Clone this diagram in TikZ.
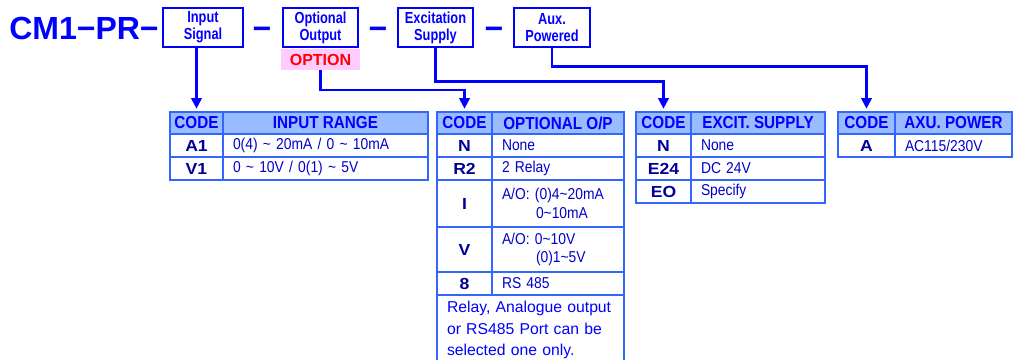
\documentclass[tikz,border=0pt]{standalone}
\usepackage{fontspec}
\setmainfont{Liberation Sans}
\newfontfamily\narrowfont[FakeStretch=0.88]{Liberation Sans}
\newfontfamily\condfont[FakeStretch=0.8]{Liberation Sans}
\newfontfamily\widefont[FakeStretch=1.1]{Liberation Sans}
\usepackage{tikz}
\usetikzlibrary{arrows.meta, positioning}

\newdimen\pix \pix=0.75pt

\definecolor{selblue}{RGB}{0,0,255}
\definecolor{tblline}{RGB}{51,102,255}
\definecolor{hdfill}{RGB}{153,187,255}
\definecolor{codetext}{RGB}{0,0,153}
\definecolor{desctext}{RGB}{0,0,204}
\definecolor{optpink}{RGB}{255,204,255}
\definecolor{optred}{RGB}{255,0,0}

\newcommand{\partfont}{\bfseries\fontsize{24}{28}\selectfont}
\newcommand{\selfont}{\condfont\bfseries\fontsize{12}{12.75}\selectfont}
\newcommand{\hdfont}{\narrowfont\bfseries\fontsize{13}{15}\selectfont}
\newcommand{\codefont}{\widefont\bfseries\fontsize{12}{14}\selectfont}
\newcommand{\descfont}{\narrowfont\fontsize{11.8}{14}\selectfont}
\newcommand{\notefont}{\fontsize{11.8}{16}\selectfont}

\tikzset{
    partno/.style={inner sep=0pt, anchor=base west, font=\partfont, text=selblue},
    sepdash/.style={inner sep=0pt, anchor=base, font=\partfont, text=selblue},
    selbox/.style={rectangle, draw=selblue, line width=2.2pt, minimum height=39\pix, inner sep=0pt, align=center, font=\selfont, text=selblue},
    optbox/.style={rectangle, fill=optpink, minimum width=79\pix, minimum height=21\pix, inner sep=0pt, font=\bfseries\fontsize{12}{14}\selectfont, text=optred},
    conn/.style={draw=selblue, line width=1.6pt, -{Triangle[width=8pt,length=8pt]}, shorten >=2.5pt},
    cell/.style={rectangle, draw=tblline, line width=1.5pt, inner sep=0pt, outer sep=0pt, anchor=north west},
    cellsize/.style 2 args={minimum width=#1\pix, minimum height=#2\pix},
    hdcell/.style={cell, fill=hdfill, font=\hdfont, text=selblue},
    codecell/.style={cell, font=\codefont, text=codetext},
    desccell/.style={cell, font=\descfont, text=desctext, align=left, inner xsep=10\pix, text width=#1\pix},
    notecell/.style={cell, font=\notefont, text=selblue, align=left, inner xsep=10\pix, text width=167\pix},
}

\begin{document}
\begin{tikzpicture}[x=0.75pt, y=-0.75pt]
  \useasboundingbox (0,0) rectangle (1013,360);

  % order code
  \node[partno] (pn) at (9,40) {CM1−PR−};
  \node[selbox, minimum width=80\pix] (insig) at (203,27.5) {Input\\Signal};
  \node[sepdash] (dashA) at (262,40) {−};
  \node[selbox, minimum width=75\pix] (optout) at (320.5,27.5) {Optional\\Output};
  \node[sepdash] (dashB) at (378,40) {−};
  \node[selbox, minimum width=75\pix] (excit) at (435.5,27.5) {Excitation\\Supply};
  \node[sepdash] (dashC) at (494,40) {−};
  \node[selbox, minimum width=76\pix] (auxpw) at (552,27.5) {Aux.\\Powered};
  \node[optbox] (option) at (320.5,59.5) {OPTION};

  % input signal
  \node[hdcell, cellsize={53}{22}] (hdA) at (170,112) {CODE};
  \node[hdcell, cellsize={205}{22}, right=0pt of hdA] (thA) {INPUT RANGE};
  \node[codecell, cellsize={53}{23}, below=0pt of hdA] (cA1) {A1};
  \node[desccell=185, minimum height=23\pix, right=0pt of cA1] (dA1) {0(4) \textasciitilde{} 20mA / 0 \textasciitilde{} 10mA};
  \node[codecell, cellsize={53}{23}, below=0pt of cA1] (cV1) {V1};
  \node[desccell=185, minimum height=23\pix, right=0pt of cV1] (dV1) {0 \textasciitilde{} 10V / 0(1) \textasciitilde{} 5V};

  % optional output
  \node[hdcell, cellsize={55}{22}] (hdB) at (437,112) {CODE};
  \node[hdcell, cellsize={132}{22}, right=0pt of hdB] (thB) {OPTIONAL O/P};
  \node[codecell, cellsize={55}{23}, below=0pt of hdB] (cBN) {N};
  \node[desccell=112, minimum height=23\pix, right=0pt of cBN] (dBN) {None};
  \node[codecell, cellsize={55}{23}, below=0pt of cBN] (cBR) {R2};
  \node[desccell=112, minimum height=23\pix, right=0pt of cBR] (dBR) {2 Relay};
  \node[codecell, cellsize={55}{47}, below=0pt of cBR] (cBI) {I};
  \node[desccell=112, minimum height=47\pix, right=0pt of cBI] (dBI) {A/O: (0)4\textasciitilde20mA\\\hspace*{34\pix}0\textasciitilde10mA};
  \node[codecell, cellsize={55}{45}, below=0pt of cBI] (cBV) {V};
  \node[desccell=112, minimum height=45\pix, right=0pt of cBV] (dBV) {A/O: 0\textasciitilde10V\\\hspace*{34\pix}(0)1\textasciitilde5V};
  \node[codecell, cellsize={55}{23}, below=0pt of cBV] (cB8) {8};
  \node[desccell=112, minimum height=23\pix, right=0pt of cB8] (dB8) {RS 485};
  \node[notecell, cellsize={187}{70}] (noteB) at (cB8.south west) {Relay, Analogue output\\or RS485 Port can be\\selected one only.};

  % excitation supply
  \node[hdcell, cellsize={55}{22}] (hdC) at (636,112) {CODE};
  \node[hdcell, cellsize={134}{22}, right=0pt of hdC] (thC) {EXCIT. SUPPLY};
  \node[codecell, cellsize={55}{23}, below=0pt of hdC] (cCN) {N};
  \node[desccell=114, minimum height=23\pix, right=0pt of cCN] (dCN) {None};
  \node[codecell, cellsize={55}{23}, below=0pt of cCN] (cCE) {E24};
  \node[desccell=114, minimum height=23\pix, right=0pt of cCE] (dCE) {DC 24V};
  \node[codecell, cellsize={55}{23}, below=0pt of cCE] (cCO) {EO};
  \node[desccell=114, minimum height=23\pix, right=0pt of cCO] (dCO) {Specify};

  % aux. power
  \node[hdcell, cellsize={57}{22}] (hdD) at (838,112) {CODE};
  \node[hdcell, cellsize={117}{22}, right=0pt of hdD] (thD) {AXU. POWER};
  \node[codecell, cellsize={57}{23}, below=0pt of hdD] (cDA) {A};
  \node[desccell=97, minimum height=23\pix, right=0pt of cDA] (dDA) {AC115/230V};

  % links
  \draw[conn] (insig.south -| hdA.north) -- (hdA.north);
  \draw[conn] (option.south) -- ++(0,20) -| (hdB.north);
  \draw[conn] (excit.south) -- ++(0,33) -| (hdC.north);
  \draw[conn] (auxpw.south) -- ++(0,18) -| (hdD.north);
\end{tikzpicture}
\end{document}
